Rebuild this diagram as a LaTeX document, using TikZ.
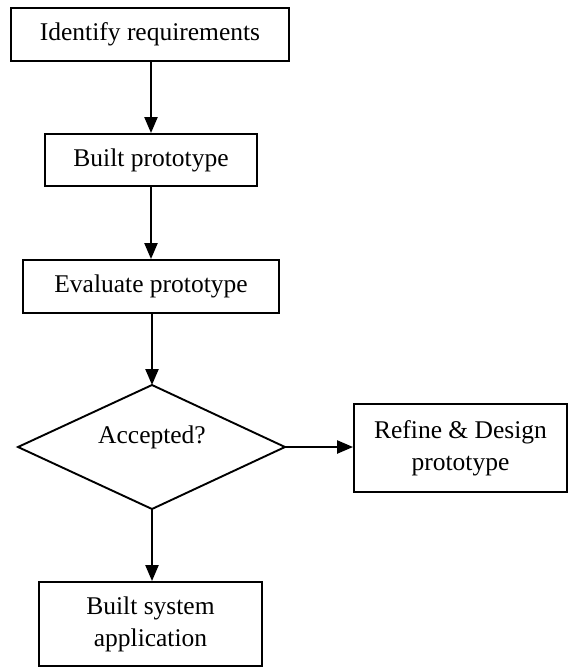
\documentclass[tikz,border=0pt]{standalone}
\usepackage{fontspec}
\setmainfont{Liberation Serif}
\usetikzlibrary{arrows.meta,shapes.geometric}
\begin{document}
\begin{tikzpicture}[x=1pt,y=-1pt,
  box/.style={draw,line width=1.9pt,rectangle,inner sep=0pt,align=center,font=\fontsize{25.5}{32}\selectfont},
  conn/.style={line width=2.3pt,-{Triangle[length=16pt,width=13pt]}},
  lbl/.style={font=\fontsize{25.5}{32}\selectfont,align=center,inner sep=0pt}]
\useasboundingbox (0,0) rectangle (568,667);
\node[box,minimum width=278pt,minimum height=53pt] (b1) at (150,34.5) {Identify requirements};
\node[box,minimum width=212pt,minimum height=52pt] (b2) at (151,160) {Built prototype};
\node[box,minimum width=256pt,minimum height=53pt] (b3) at (151,286.5) {Evaluate prototype};
\coordinate (dt) at (152,385);
\coordinate (dl) at (18,447);
\coordinate (dr) at (285,447);
\coordinate (db) at (152,509);
\draw[line width=1.9pt,line join=miter] (dt) -- (dr) -- (db) -- (dl) -- cycle;
\node[lbl] (dtext) at (152,437) {Accepted?};
\node[box,minimum width=213pt,minimum height=88pt] (ref) at (460.5,448) {Refine \& Design\\prototype};
\node[box,minimum width=223pt,minimum height=84pt] (b4) at (150.5,624) {Built system\\application};
\draw[conn] (b1.south -| b2.north) -- (b2.north);
\draw[conn] (b2.south) -- (b3.north);
\draw[conn] (b3.south -| dt) -- (dt);
\draw[conn] (dr) -- (dr -| ref.west);
\draw[conn] (db) -- (db |- b4.north);
\end{tikzpicture}
\end{document}
